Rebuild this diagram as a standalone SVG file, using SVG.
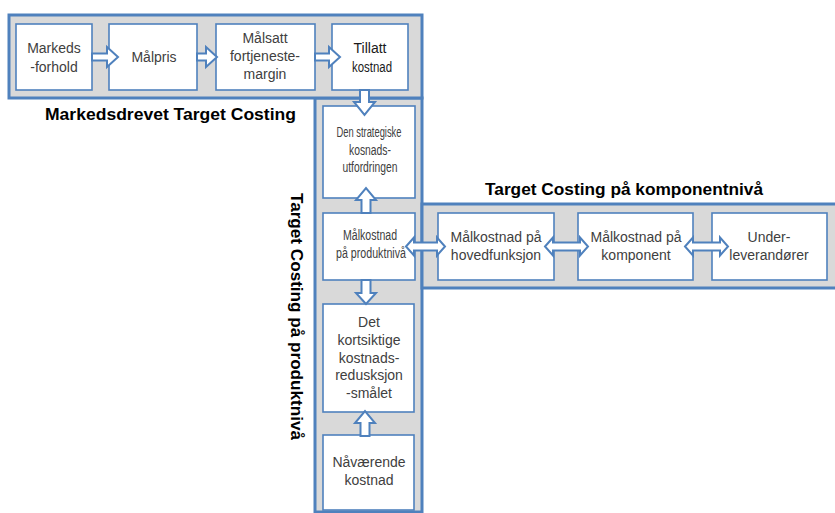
<svg xmlns="http://www.w3.org/2000/svg" width="835" height="513" viewBox="0 0 835 513">
<style>
.band{fill:#D9D9D9;stroke:#4F81BD;stroke-width:3}
.box{fill:#FFFFFF;stroke:#4F81BD;stroke-width:1.6}
.arr{fill:#FFFFFF;stroke:#4F81BD;stroke-width:2;stroke-linejoin:miter}
.t{font-family:"Liberation Sans",Arial,sans-serif;font-size:14px;fill:#404040;text-anchor:middle}
.tk{fill:#1a1a1a}
.lbl{font-family:"Liberation Sans",Arial,sans-serif;font-size:17px;font-weight:bold;fill:#000000}
</style>
<rect width="835" height="513" fill="#FFFFFF"/>
<g id="bands">
<rect class="band" x="315" y="98" width="107" height="414"/>
<rect class="band" x="9" y="15" width="413" height="83"/>
<rect class="band" x="422" y="204" width="430" height="84"/>
</g>
<g id="labels">
<text class="lbl" x="45" y="120" textLength="251" lengthAdjust="spacingAndGlyphs">Markedsdrevet Target Costing</text>
<text class="lbl" x="485" y="195" textLength="278" lengthAdjust="spacingAndGlyphs">Target Costing på komponentnivå</text>
<text class="lbl" transform="translate(291,193) rotate(90)" x="0" y="0" textLength="247" lengthAdjust="spacingAndGlyphs">Target Costing på produktnivå</text>
</g>
<g id="n-markedsforhold"><rect class="box" x="16" y="24" width="76" height="66"/><text class="t" x="54" y="53">Markeds</text><text class="t" x="54" y="72">-forhold</text></g>
<g id="n-malpris"><rect class="box" x="109" y="24" width="88" height="66"/><text class="t" x="154" y="62">Målpris</text></g>
<g id="n-malsatt"><rect class="box" x="216" y="24" width="99" height="66"/><text class="t" x="265" y="43">Målsatt</text><text class="t" x="265" y="61">fortjeneste-</text><text class="t" x="265" y="79">margin</text></g>
<g id="n-tillatt"><rect class="box" x="332" y="24" width="76" height="66"/><text class="t tk" x="370" y="53">Tillatt</text><text class="t tk" x="372" y="72" textLength="40" lengthAdjust="spacingAndGlyphs">kostnad</text></g>
<g id="n-strategiske"><rect class="box" x="323" y="106" width="92" height="92"/><text class="t" x="369" y="137" textLength="65" lengthAdjust="spacingAndGlyphs">Den strategiske</text><text class="t" x="370" y="155" textLength="42" lengthAdjust="spacingAndGlyphs">kosnads-</text><text class="t" x="370" y="172" textLength="55" lengthAdjust="spacingAndGlyphs">utfordringen</text></g>
<g id="n-produktniva"><rect class="box" x="323" y="213" width="92" height="67"/><text class="t" x="370" y="240" textLength="54" lengthAdjust="spacingAndGlyphs">Målkostnad</text><text class="t" x="371" y="258" textLength="70" lengthAdjust="spacingAndGlyphs">på produktnivå</text></g>
<g id="n-kortsiktige"><rect class="box" x="323" y="304" width="91" height="108"/><text class="t" x="369" y="327">Det</text><text class="t" x="369" y="345">kortsiktige</text><text class="t" x="369" y="363">kostnads-</text><text class="t" x="369" y="380">redusksjon</text><text class="t" x="369" y="398">-smålet</text></g>
<g id="n-navaerende"><rect class="box" x="323" y="435" width="91" height="75"/><text class="t" x="369" y="467">Nåværende</text><text class="t" x="369" y="485">kostnad</text></g>
<g id="n-hovedfunksjon"><rect class="box" x="438" y="213" width="116" height="67"/><text class="t" x="496" y="242">Målkostnad på</text><text class="t" x="496" y="260">hovedfunksjon</text></g>
<g id="n-komponent"><rect class="box" x="578" y="213" width="115" height="67"/><text class="t" x="636" y="242">Målkostnad på</text><text class="t" x="636" y="260">komponent</text></g>
<g id="n-underleverandorer"><rect class="box" x="712" y="213" width="115" height="67"/><text class="t" x="769" y="242">Under-</text><text class="t" x="769" y="260">leverandører</text></g>
<g id="connectors">
<polygon class="arr" points="92,53.5 107,53.5 107,47 118,57 107,67 107,60.5 92,60.5"/>
<polygon class="arr" points="197,53.5 206,53.5 206,47 217,57 206,67 206,60.5 197,60.5"/>
<polygon class="arr" points="315,53.5 329,53.5 329,47 340,57 329,67 329,60.5 315,60.5"/>
<polygon class="arr" points="360,90 369,90 369,102 375,102 364.5,115 354,102 360,102"/>
<polygon class="arr" points="361.5,213 370.5,213 370.5,200 376,200 366,188 356,200 361.5,200"/>
<polygon class="arr" points="361.5,280 370.5,280 370.5,293 376,293 366,304 356,293 361.5,293"/>
<polygon class="arr" points="360.5,436 369.5,436 369.5,423 375,423 365,411 355,423 360.5,423"/>
<polygon class="arr" points="406,246.5 414,237.5 414,242.5 437,242.5 437,237.5 445,246.5 437,255.5 437,250.5 414,250.5 414,255.5"/>
<polygon class="arr" points="545,246.5 553,237.5 553,242.5 580,242.5 580,237.5 588,246.5 580,255.5 580,250.5 553,250.5 553,255.5"/>
<polygon class="arr" points="685,246.5 693,237.5 693,242.5 720,242.5 720,237.5 728,246.5 720,255.5 720,250.5 693,250.5 693,255.5"/>
</g>
</svg>
